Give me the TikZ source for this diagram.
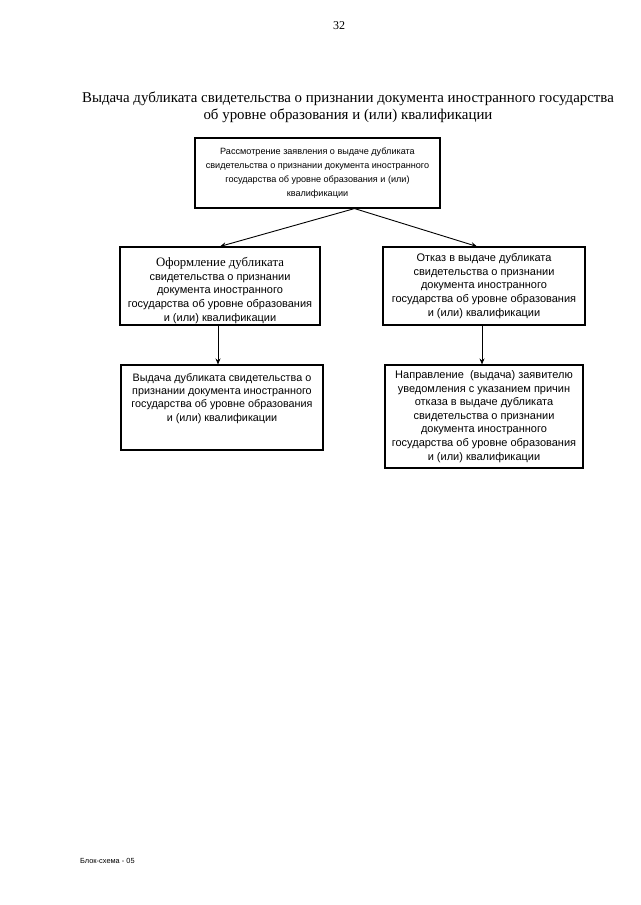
\documentclass[tikz,border=0pt]{standalone}
\usepackage{fontspec}
\setmainfont{Liberation Serif}
\newfontfamily\footfont{Liberation Sans}
\newfontfamily\boxfont{Liberation Sans}
\usetikzlibrary{arrows.meta}
\begin{document}
\begin{tikzpicture}[x=1pt,y=-1pt,
  box/.style={draw, line width=1.1pt, align=center, inner sep=2pt, font=\boxfont\fontsize{11}{13.6}\selectfont},
  boxtext/.style={align=center, inner sep=0pt, font=\boxfont\fontsize{11}{13.6}\selectfont},
  arr/.style={-{Stealth[length=6pt,width=5pt]}, line width=0.9pt}]
\useasboundingbox (0,0) rectangle (640,905);
\node (page) at (339,26) {\fontsize{12}{14}\selectfont 32};
\node[align=center, font=\fontsize{14.9}{17}\selectfont] (title) at (348,107)
  {Выдача дубликата свидетельства о признании документа иностранного государства\\
   об уровне образования и (или) квалификации};
\node[box, minimum width=245pt, minimum height=70pt, font=\boxfont\fontsize{9.1}{14}\selectfont] (top) at (317.5,173)
  {Рассмотрение заявления о выдаче дубликата\\
   свидетельства о признании документа иностранного\\
   государства об уровне образования и (или)\\
   квалификации};
\node[box, minimum width=200pt, minimum height=78pt] (left) at (220,286) {};
\node[boxtext] (lefttext) at (220,290.5)
  {{\rmfamily\fontsize{12.8}{13.6}\selectfont Оформление дубликата}\\
   свидетельства о признании\\
   документа иностранного\\
   государства об уровне образования\\
   и (или) квалификации};
\node[box, minimum width=202pt, minimum height=78pt] (right) at (484,286)
  {Отказ в выдаче дубликата\\
   свидетельства о признании\\
   документа иностранного\\
   государства об уровне образования\\
   и (или) квалификации};
\node[box, minimum width=202pt, minimum height=85pt] (bleft) at (222,407.5) {};
\node[boxtext, font=\boxfont\fontsize{10.8}{13.2}\selectfont] (blefttext) at (222,398.5)
  {Выдача дубликата свидетельства о\\
   признании документа иностранного\\
   государства об уровне образования\\
   и (или) квалификации};
\node[box, minimum width=198pt, minimum height=103pt] (bright) at (484,416.5)
  {Направление \ (выдача) заявителю\\
   уведомления с указанием причин\\
   отказа в выдаче дубликата\\
   свидетельства о признании\\
   документа иностранного\\
   государства об уровне образования\\
   и (или) квалификации};
\coordinate (split) at ([xshift=37pt]top.south);
\draw[arr] (split) -- ([xshift=0pt]left.north);
\draw[arr] (split) -- ([xshift=-7pt]right.north);
\draw[arr] ([xshift=-2pt]left.south) -- ([xshift=-4pt]bleft.north);
\draw[arr] ([xshift=-2pt]right.south) -- ([xshift=-2pt]bright.north);
\node[anchor=west, inner sep=0pt, font=\footfont\fontsize{7.4}{8}\selectfont] (foot) at (80,861) {Блок-схема - 05};
\end{tikzpicture}
\end{document}
